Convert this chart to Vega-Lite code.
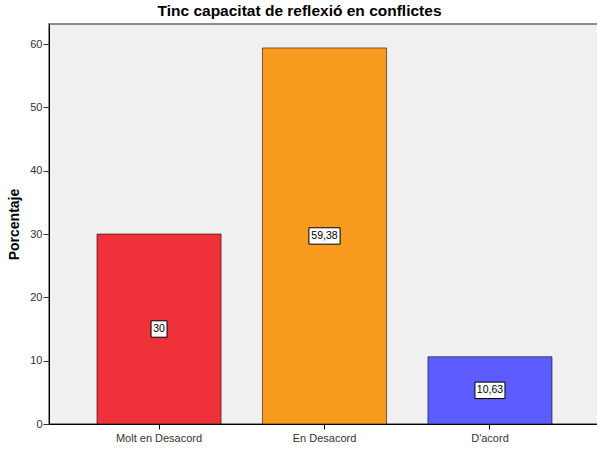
{
  "$schema": "https://vega.github.io/schema/vega-lite/v6.json",
  "autosize": "none",
  "padding": {"left": 49, "top": 24, "right": 0, "bottom": 26},
  "width": 551,
  "height": 400,
  "background": "white",
  "title": {
    "text": "Tinc capacitat de reflexió en conflictes",
    "font": "Liberation Sans",
    "fontSize": 15.5,
    "fontWeight": "bold",
    "color": "#000000",
    "anchor": "middle",
    "dx": -25,
    "offset": 5
  },
  "config": {
    "locale": {"number": {"decimal": ",", "thousands": ".", "grouping": [3], "currency": ["", " €"]}},
    "view": {"fill": "#f0f0f0", "stroke": "#8c8c8c", "strokeWidth": 2},
    "font": "Liberation Sans",
    "axis": {
      "labelFont": "Liberation Sans",
      "labelFontSize": 11,
      "labelColor": "#333333",
      "domainColor": "#000000",
      "domainWidth": 1,
      "tickColor": "#333333",
      "grid": false
    }
  },
  "data": {
    "values": [
      {"cat": "Molt en Desacord", "pct": 30},
      {"cat": "En Desacord", "pct": 59.38},
      {"cat": "D'acord", "pct": 10.63}
    ]
  },
  "encoding": {
    "x": {
      "field": "cat",
      "type": "nominal",
      "sort": null,
      "scale": {"paddingInner": 0.25, "paddingOuter": 0.29},
      "axis": {"title": null, "labelAngle": 0, "tickSize": 5, "labelPadding": 3, "tickColor": "#000000"}
    }
  },
  "layer": [
    {
      "mark": {"type": "bar", "stroke": "#000000", "strokeOpacity": 0.55, "strokeWidth": 1},
      "encoding": {
        "y": {
          "field": "pct",
          "type": "quantitative",
          "scale": {"domain": [0, 63.16], "nice": false},
          "axis": {
            "title": "Porcentaje",
            "titleFont": "Liberation Sans",
            "titleFontSize": 14,
            "titleFontWeight": "bold",
            "titleColor": "#000000",
            "titlePadding": 8,
            "values": [0, 10, 20, 30, 40, 50, 60],
            "tickSize": 6,
            "labelPadding": 1
          }
        },
        "color": {
          "field": "cat",
          "type": "nominal",
          "scale": {
            "domain": ["Molt en Desacord", "En Desacord", "D'acord"],
            "range": ["#ef323a", "#f89a1e", "#5c5cff"]
          },
          "legend": null
        }
      }
    },
    {
      "mark": {"type": "point", "filled": true, "fill": "#ffffff", "stroke": "#000000", "strokeWidth": 1, "opacity": 1, "size": 16},
      "encoding": {
        "y": {
          "field": "pct",
          "type": "quantitative",
          "scale": {"domain": [0, 126.32], "nice": false},
          "axis": null
        },
        "shape": {
          "field": "cat",
          "type": "nominal",
          "scale": {
            "domain": ["Molt en Desacord", "En Desacord", "D'acord"],
            "range": [
              "M-4,-4.1L4,-4.1L4,4.1L-4,4.1Z",
              "M-7.8,-4.1L7.8,-4.1L7.8,4.1L-7.8,4.1Z",
              "M-7.5,-4.1L7.5,-4.1L7.5,4.1L-7.5,4.1Z"
            ]
          },
          "legend": null
        }
      }
    },
    {
      "mark": {"type": "text", "fontSize": 10.5, "font": "Liberation Sans", "color": "#000000", "baseline": "middle", "align": "center"},
      "encoding": {
        "y": {
          "field": "pct",
          "type": "quantitative",
          "scale": {"domain": [0, 126.32], "nice": false},
          "axis": null
        },
        "text": {"field": "pct", "type": "quantitative", "format": ".2~f"}
      }
    }
  ],
  "resolve": {"scale": {"y": "independent"}}
}
